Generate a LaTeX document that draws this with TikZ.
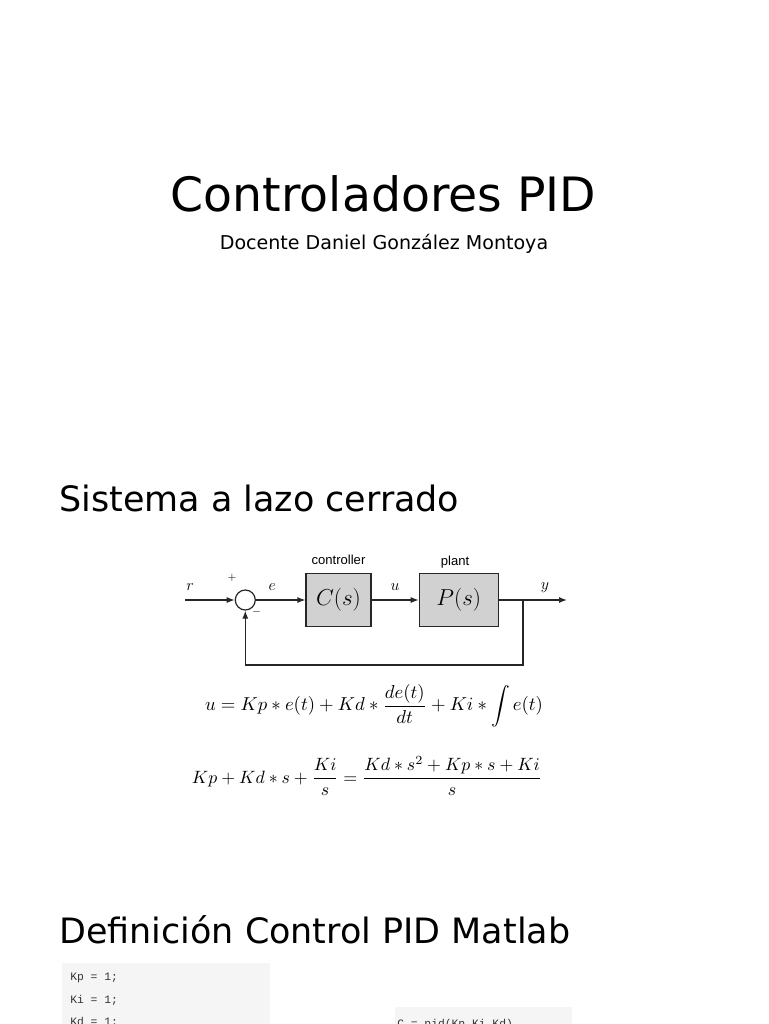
\documentclass[tikz,border=0pt]{standalone}
\usepackage[no-math]{fontspec}
\setmainfont{DejaVu Sans}
\newfontfamily\arialf{Liberation Sans}
\newfontfamily\monof{Liberation Mono}
\usepackage{amsmath}
\usepackage{graphicx}
\usetikzlibrary{arrows.meta}
\begin{document}
\begin{tikzpicture}[x=0.75pt,y=-0.75pt,
  blk/.style={draw=black!85, fill=black!18, line width=0.9pt, minimum height=39.75pt, inner sep=0pt, font=\fontsize{17}{20}\selectfont},
  sig/.style={line width=0.9pt, draw=black!85},
  arr/.style={sig, -{Latex[length=6pt,width=4.5pt]}},
  lab/.style={font=\fontsize{12}{14}\selectfont, inner sep=0pt},
  blklabel/.style={font=\arialf\fontsize{9.8}{12}\selectfont, inner sep=0pt, anchor=base},
  codebox/.style={fill=black!4, draw=none},
  code/.style={font=\monof\fontsize{8.5}{10}\selectfont, text=black!80, anchor=base west, inner sep=0pt}]
\useasboundingbox (0,0) rectangle (768,1024);
\clip (0,0) rectangle (768,1024);
\fill[white] (0,0) rectangle (768,1024);

% titles
\node[anchor=base, inner sep=0pt, font=\fontsize{35.5}{40}\selectfont] (title) at (383.5,211) {Controladores PID};
\node[anchor=base, inner sep=0pt, font=\fontsize{14.3}{17}\selectfont] (sub) at (384,249) {Docente Daniel González Montoya};
\node[anchor=base west, inner sep=0pt, font=\fontsize{26.2}{30}\selectfont] (h1) at (59,511) {Sistema a lazo cerrado};
\node[anchor=base west, inner sep=0pt, font=\fontsize{26.2}{30}\selectfont] (h2) at (59,943) {Definición Control PID Matlab};

% block diagram
\node[blk, minimum width=48.75pt] (C) at (338.5,600) {$C(s)$};
\node[blk, minimum width=59.25pt] (P) at (458.8,600) {$P(s)$};
\node[circle, sig, minimum size=15pt, inner sep=0pt] (sum) at (245.3,600) {};
\coordinate (in) at (185,600);
\coordinate (out) at (567,600);
\coordinate (br) at (523,600);
\coordinate (fb) at (523,665);

\draw[arr] (in) -- (sum.west);
\draw[arr] (sum.east) -- (C.west);
\draw[arr] (C.east) -- (P.west);
\draw[arr] (P.east) -- (out);
\draw[arr] (br) -- (fb) -| (sum.south);

\node[lab] (lr) at (190,587) {$r$};
\node[lab, font=\fontsize{8}{9}\selectfont] (lp) at (232,578) {$+$};
\node[lab] (le) at (272.3,587) {$e$};
\node[lab, font=\fontsize{8}{9}\selectfont] (lm) at (256.5,612) {$-$};
\node[lab] (lu) at (395,587) {$u$};
\node[lab] (ly) at (545,588) {$y$};
\node[blklabel] (cc) at (338.5,564) {controller};
\node[blklabel] (cpl) at (455,565) {plant};

% equations
\node[anchor=base, inner sep=0pt] (eq1) at (374,710.7) {\resizebox{253.5pt}{!}{$\displaystyle u = Kp \ast e(t) + Kd \ast \frac{de(t)}{dt} + Ki \ast \int e(t)$}};
\node[anchor=base, inner sep=0pt] (eq2) at (367,783) {\resizebox{262.5pt}{!}{$\displaystyle Kp + Kd \ast s + \frac{Ki}{s} = \frac{Kd \ast s^2 + Kp \ast s + Ki}{s}$}};

% code
\fill[codebox] (62,963) rectangle (270,1030);
\fill[codebox] (395,1007) rectangle (572,1030);
\node[code] (c1) at (70,980.7) {Kp = 1;};
\node[code] (c2) at (70,1003) {Ki = 1;};
\node[code] (c3) at (70,1025.5) {Kd = 1;};
\node[code] (c4) at (397,1027.5) {C = pid(Kp,Ki,Kd)};
\end{tikzpicture}
\end{document}
